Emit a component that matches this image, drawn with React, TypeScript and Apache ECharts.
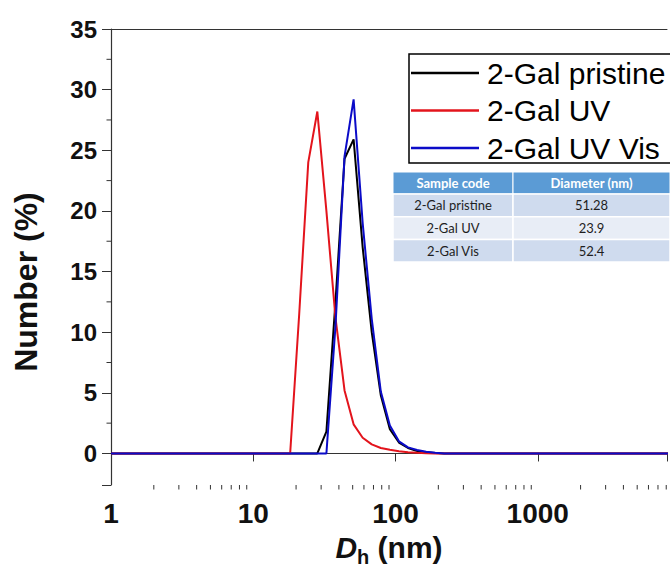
import React, { useEffect, useRef } from "react";
import * as echarts from "echarts";

// Size classes (nm) of the number distribution
const sizesNm = [1, 18.17, 21.04, 24.36, 28.21, 32.67, 37.84, 43.82, 50.75, 58.77, 68.06, 78.82, 91.28, 105.7, 122.4, 141.8, 164.2, 190.1, 220.2, 10000];
// Number (%) per size class
const pristinePct = [0, 0, 0, 0, 0, 1.8, 12.5, 24.3, 25.9, 17.0, 10.0, 4.8, 2.0, 0.9, 0.45, 0.2, 0.1, 0.03, 0, 0];
const uvPct = [0, 0, 11.5, 24.0, 28.2, 20.0, 11.2, 5.2, 2.4, 1.3, 0.75, 0.45, 0.3, 0.18, 0.1, 0.05, 0.02, 0, 0, 0];
const uvVisPct = [0, 0, 0, 0, 0, 0, 10.5, 24.5, 29.2, 19.0, 11.1, 5.1, 2.3, 1.0, 0.5, 0.28, 0.15, 0.05, 0, 0];

const seriesNames = ["2-Gal pristine", "2-Gal UV", "2-Gal UV Vis"];
const seriesValues = [pristinePct, uvPct, uvVisPct];
const seriesColors = ["#000000", "#e3141c", "#0b0bc8"];

// Minor ticks of the axes
const xMinorTicks = [2, 3, 4, 5, 6, 7, 8, 9, 20, 30, 40, 50, 60, 70, 80, 90, 200, 300, 400, 500, 600, 700, 800, 900, 2000, 3000, 4000, 5000, 6000, 7000, 8000];
const yMinorTicks = [2.5, 7.5, 12.5, 17.5, 22.5, 27.5, 32.5];

// Inset table
const tableHeader = ["Sample code", "Diameter (nm)"];
const sampleCodes = ["2-Gal pristine", "2-Gal UV", "2-Gal Vis"];
const diameters = ["51.28", "23.9", "52.4"];

const X_MIN = 1;
const X_MAX = 8100;
const Y_MIN = -2.6;
const Y_MAX = 35;
const FONT = '"Liberation Sans", Arial, sans-serif';
const TABLE_FONT = 'Lato, "Open Sans", sans-serif';
const AXIS_COLOR = "#333333";

function buildTable() {
  const x0 = 393;
  const y0 = 172;
  const colW = [120, 157];
  const headH = 22;
  const rowH = 22.7;
  const rowFills = ["#cfdbee", "#e8edf6", "#cfdbee"];
  const els: any[] = [];
  let cx = x0;
  tableHeader.forEach((h, c) => {
    els.push({
      type: "rect",
      shape: { x: cx, y: y0, width: colW[c], height: headH },
      style: { fill: "#5b9bd5", stroke: "#ffffff", lineWidth: 1 },
    });
    els.push({
      type: "text",
      style: {
        text: h, x: cx + colW[c] / 2, y: y0 + headH / 2,
        align: "center", verticalAlign: "middle",
        fill: "#ffffff", fontFamily: TABLE_FONT, fontWeight: "bold", fontSize: 13,
      },
    });
    cx += colW[c];
  });
  sampleCodes.forEach((code, r) => {
    const ry = y0 + headH + r * rowH;
    const cells = [code, diameters[r]];
    let rx = x0;
    cells.forEach((t, c) => {
      els.push({
        type: "rect",
        shape: { x: rx, y: ry, width: colW[c], height: rowH },
        style: { fill: rowFills[r], stroke: "#ffffff", lineWidth: 1.5 },
      });
      els.push({
        type: "text",
        style: {
          text: t, x: rx + colW[c] / 2, y: ry + rowH / 2,
          align: "center", verticalAlign: "middle",
          fill: "#1e1e1e", fontFamily: TABLE_FONT, fontSize: 13,
        },
      });
      rx += colW[c];
    });
  });
  return els;
}

function buildOption(): any {
  const lines = seriesNames.map((name, i) => ({
    name,
    type: "line",
    data: sizesNm.map((s, k) => [s, seriesValues[i][k]]),
    symbol: "none",
    lineStyle: { color: seriesColors[i], width: 2 },
    itemStyle: { color: seriesColors[i] },
    z: 3 + i,
  }));

  const xMinor = {
    type: "custom",
    silent: true,
    clip: false,
    z: 10,
    data: xMinorTicks.map((v) => [v, Y_MIN]),
    renderItem: (_p: any, api: any) => {
      const pt = api.coord([api.value(0), Y_MIN]);
      return {
        type: "line",
        shape: { x1: pt[0], y1: pt[1], x2: pt[0], y2: pt[1] + 4.5 },
        style: { stroke: AXIS_COLOR, lineWidth: 1 },
      };
    },
  };
  const yMinor = {
    type: "custom",
    silent: true,
    clip: false,
    z: 10,
    data: yMinorTicks.map((v) => [X_MIN, v]),
    renderItem: (_p: any, api: any) => {
      const pt = api.coord([X_MIN, api.value(1)]);
      return {
        type: "line",
        shape: { x1: pt[0] - 4.5, y1: pt[1], x2: pt[0], y2: pt[1] },
        style: { stroke: AXIS_COLOR, lineWidth: 1 },
      };
    },
  };

  return {
    animation: false,
    backgroundColor: "#ffffff",
    grid: { left: 111, right: 0, top: 29, bottom: 86.5 },
    legend: {
      data: seriesNames,
      orient: "vertical",
      left: 409,
      top: 54,
      icon: "rect",
      itemWidth: 68,
      itemHeight: 2.5,
      itemGap: 7.5,
      padding: [4, 40, 0, 2],
      borderColor: "#000000",
      borderWidth: 1.5,
      borderRadius: 0,
      backgroundColor: "#ffffff",
      textStyle: { fontFamily: FONT, fontSize: 30, color: "#000000", padding: [0, 0, 0, 3] },
    },
    xAxis: [
      {
        type: "log",
        logBase: 10,
        min: X_MIN,
        max: X_MAX,
        axisLine: { show: true, lineStyle: { color: AXIS_COLOR, width: 1.2 } },
        axisTick: { show: true, inside: false, length: 8, lineStyle: { color: AXIS_COLOR } },
        splitLine: { show: false },
        axisLabel: {
          margin: 14,
          fontFamily: FONT,
          fontWeight: "bold",
          fontSize: 28,
          color: "#111111",
          formatter: (v: number) => {
            const l = Math.log10(v);
            return Math.abs(l - Math.round(l)) < 1e-6 ? String(Math.round(v)) : "";
          },
        },
        name: "{it|D}{sub|h}{n| (nm)}",
        nameLocation: "middle",
        nameGap: 42,
        nameTextStyle: {
          rich: {
            it: { fontFamily: FONT, fontWeight: "bold", fontStyle: "italic", fontSize: 30, color: "#111111", lineHeight: 40, verticalAlign: "middle" },
            sub: { fontFamily: FONT, fontWeight: "bold", fontSize: 20, color: "#111111", lineHeight: 40, verticalAlign: "bottom" },
            n: { fontFamily: FONT, fontWeight: "bold", fontSize: 30, color: "#111111", lineHeight: 40, verticalAlign: "middle" },
          },
        },
      },
      {
        type: "log",
        logBase: 10,
        position: "top",
        min: X_MIN,
        max: X_MAX,
        axisLine: { show: true, lineStyle: { color: AXIS_COLOR, width: 1 } },
        axisTick: { show: false },
        axisLabel: { show: false },
        splitLine: { show: false },
      },
    ],
    yAxis: {
      type: "value",
      min: Y_MIN,
      max: Y_MAX,
      splitNumber: 8,
      axisLine: { show: true, lineStyle: { color: AXIS_COLOR, width: 1.2 } },
      axisTick: { show: true, inside: false, length: 9, lineStyle: { color: AXIS_COLOR } },
      splitLine: { show: false },
      axisLabel: {
        margin: 14,
        fontFamily: FONT,
        fontWeight: "bold",
        fontSize: 24,
        color: "#111111",
        formatter: (v: number) => (v < -0.01 ? "" : String(Math.round(v))),
      },
      name: "Number (%)",
      nameLocation: "middle",
      nameGap: 69,
      nameTextStyle: { fontFamily: FONT, fontWeight: "bold", fontSize: 32, color: "#111111", padding: [0, 50, 0, 0] },
    },
    graphic: buildTable(),
    series: [...lines, xMinor, yMinor],
  };
}

export default function App() {
  const ref = useRef<HTMLDivElement>(null);
  useEffect(() => {
    if (!ref.current) return;
    const chart = echarts.init(ref.current, undefined, { renderer: "svg" });
    chart.setOption(buildOption());
    return () => chart.dispose();
  }, []);
  return (
    <div style={{ position: "fixed", left: 0, top: 0, width: 670, height: 572, background: "#ffffff", overflow: "hidden" }}>
      <div ref={ref} style={{ width: 670, height: 572 }} />
    </div>
  );
}
